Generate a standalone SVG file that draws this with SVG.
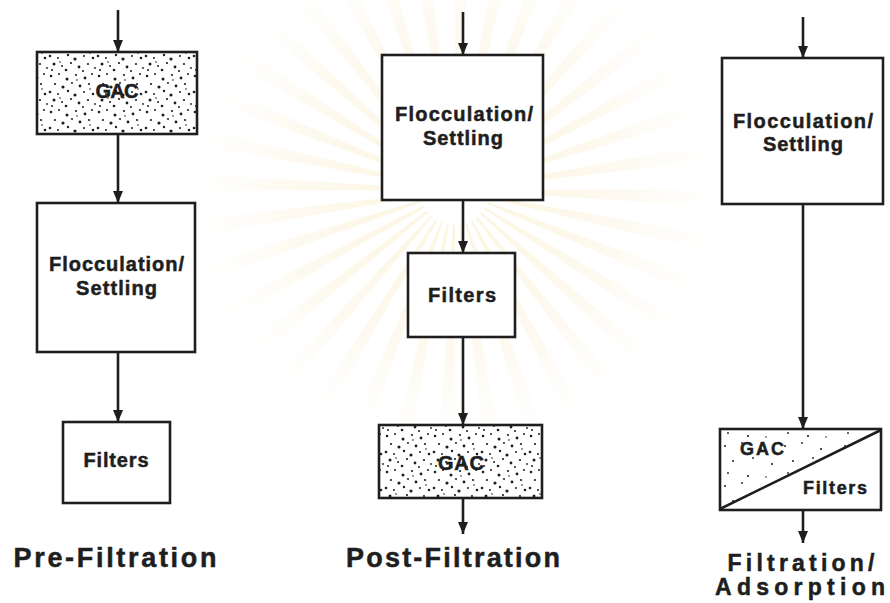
<svg xmlns="http://www.w3.org/2000/svg" width="890" height="603" viewBox="0 0 890 603">
  <style>
    .box { fill: #ffffff; stroke: #1e1e1e; stroke-width: 2.6; stroke-linejoin: miter; }
    .gac { fill: url(#dots); stroke: #1e1e1e; stroke-width: 2.6; }
    .conn { stroke: #1e1e1e; stroke-width: 2.6; fill: none; marker-end: url(#arrow); }
    .lbl { font-family: "Liberation Sans", Arial, Helvetica, sans-serif; font-weight: bold; fill: #1e1e1e; stroke: #1e1e1e; stroke-width: 0.5; text-anchor: middle; font-size: 20px; }
    .title { font-family: "Liberation Sans", Arial, Helvetica, sans-serif; font-weight: bold; fill: #1e1e1e; stroke: #1e1e1e; stroke-width: 0.5; text-anchor: middle; font-size: 27px; }
  </style>
  <defs>
    <marker id="arrow" viewBox="0 0 12 10" markerWidth="12" markerHeight="11" refX="12" refY="5" orient="auto" markerUnits="userSpaceOnUse">
      <path d="M0,0 L12,5 L0,10 z" fill="#1e1e1e"/>
    </marker>
    <pattern id="dots" width="48" height="36" patternUnits="userSpaceOnUse">
      <rect width="48" height="36" fill="#ffffff"/>
      <g fill="#1e1e1e">
        <circle cx="3" cy="4" r="1.3"/><circle cx="11" cy="2" r="1"/><circle cx="19" cy="7" r="1.5"/>
        <circle cx="28" cy="3" r="1.1"/><circle cx="37" cy="6" r="1.4"/><circle cx="44" cy="2" r="1"/>
        <circle cx="7" cy="12" r="1.1"/><circle cx="15" cy="15" r="1.6"/><circle cx="24" cy="11" r="1"/>
        <circle cx="32" cy="14" r="1.4"/><circle cx="41" cy="12" r="1.1"/>
        <circle cx="2" cy="20" r="1.3"/><circle cx="10" cy="22" r="1"/><circle cx="20" cy="19" r="1.2"/>
        <circle cx="27" cy="23" r="1.6"/><circle cx="36" cy="20" r="1"/><circle cx="45" cy="22" r="1.3"/>
        <circle cx="6" cy="28" r="1.5"/><circle cx="14" cy="30" r="1"/><circle cx="23" cy="27" r="1.1"/>
        <circle cx="31" cy="31" r="1.4"/><circle cx="40" cy="28" r="1.1"/><circle cx="47" cy="32" r="0.9"/>
        <circle cx="4" cy="34" r="1"/><circle cx="18" cy="34" r="1.3"/><circle cx="35" cy="35" r="1"/>
        <circle cx="29" cy="8" r="0.8"/><circle cx="12" cy="26" r="0.8"/><circle cx="42" cy="17" r="0.8"/>
      </g>
    </pattern>
    <pattern id="sparse" width="60" height="40" patternUnits="userSpaceOnUse">
      <g fill="#1e1e1e">
        <circle cx="5" cy="6" r="1"/><circle cx="22" cy="3" r="0.9"/><circle cx="41" cy="9" r="1.1"/>
        <circle cx="13" cy="21" r="1"/><circle cx="33" cy="18" r="0.9"/><circle cx="52" cy="24" r="1"/>
        <circle cx="8" cy="33" r="0.9"/><circle cx="28" cy="36" r="1.1"/><circle cx="46" cy="37" r="0.8"/>
      </g>
    </pattern>
    <radialGradient id="rays" gradientUnits="userSpaceOnUse" cx="455" cy="190" r="290">
      <stop offset="0.12" stop-color="#f6e2a6" stop-opacity="0.35"/>
      <stop offset="0.6" stop-color="#f8e8bf" stop-opacity="0.22"/>
      <stop offset="1" stop-color="#ffffff" stop-opacity="0"/>
    </radialGradient>
  </defs>

  <rect width="890" height="603" fill="#ffffff"/>

  <!-- faint watermark sunburst -->
  <g id="watermark">
    <circle cx="455" cy="190" r="160" fill="none" stroke="url(#rays)" stroke-width="250" stroke-dasharray="10 17.9"/>
  </g>

  <!-- Pre-Filtration -->
  <g id="pre-gac">
    <rect class="gac" x="37" y="52" width="160" height="82"/>
    <text class="lbl" x="117" y="98" textLength="43" lengthAdjust="spacing">GAC</text>
  </g>
  <g id="pre-floc">
    <rect class="box" x="37" y="203" width="158" height="149"/>
    <text class="lbl" x="116.5" y="271" textLength="135" lengthAdjust="spacing">Flocculation/</text>
    <text class="lbl" x="116.5" y="295" textLength="81" lengthAdjust="spacing">Settling</text>
  </g>
  <g id="pre-filters">
    <rect class="box" x="63" y="422" width="107" height="81"/>
    <text class="lbl" x="116" y="467" textLength="65" lengthAdjust="spacing">Filters</text>
  </g>
  <text class="title" x="115" y="567" textLength="203" lengthAdjust="spacing">Pre-Filtration</text>

  <!-- Post-Filtration -->
  <g id="post-floc">
    <rect class="box" x="382" y="55" width="161" height="145"/>
    <text class="lbl" x="464" y="121" textLength="138" lengthAdjust="spacing">Flocculation/</text>
    <text class="lbl" x="463" y="145" textLength="80" lengthAdjust="spacing">Settling</text>
  </g>
  <g id="post-filters">
    <rect class="box" x="408" y="253" width="107" height="84"/>
    <text class="lbl" x="462" y="302" textLength="68" lengthAdjust="spacing">Filters</text>
  </g>
  <g id="post-gac">
    <rect class="gac" x="379" y="425" width="163" height="73"/>
    <text class="lbl" x="461" y="470" textLength="46" lengthAdjust="spacing">GAC</text>
  </g>
  <text class="title" x="453" y="567" textLength="214" lengthAdjust="spacing">Post-Filtration</text>

  <!-- Filtration/Adsorption -->
  <g id="fa-floc">
    <rect class="box" x="722" y="58" width="161" height="146"/>
    <text class="lbl" x="803" y="128" textLength="140" lengthAdjust="spacing">Flocculation/</text>
    <text class="lbl" x="803" y="151" textLength="80" lengthAdjust="spacing">Settling</text>
  </g>
  <g id="fa-combo">
    <rect class="box" x="720" y="429" width="161" height="81"/>
    <polygon points="720,510 881,429 720,429" fill="url(#sparse)"/>
    <line x1="720" y1="509" x2="881" y2="430" stroke="#1e1e1e" stroke-width="2.6"/>
    <text class="lbl" x="762" y="455" style="font-size:18px" textLength="44" lengthAdjust="spacing">GAC</text>
    <text class="lbl" x="835" y="494" style="font-size:18px" textLength="64" lengthAdjust="spacing">Filters</text>
  </g>
  <text class="title" x="801" y="571" style="font-size:23px" textLength="147" lengthAdjust="spacing">Filtration/</text>
  <text class="title" x="800" y="595" style="font-size:23px" textLength="170" lengthAdjust="spacing">Adsorption</text>

  <!-- connectors -->
  <g id="connectors">
    <line class="conn" x1="118" y1="10" x2="118" y2="52"/>
    <line class="conn" x1="118" y1="134" x2="118" y2="203"/>
    <line class="conn" x1="118" y1="352" x2="118" y2="422"/>
    <line class="conn" x1="463" y1="12" x2="463" y2="55"/>
    <line class="conn" x1="463" y1="200" x2="463" y2="253"/>
    <line class="conn" x1="463" y1="337" x2="463" y2="425"/>
    <line class="conn" x1="463" y1="498" x2="463" y2="534"/>
    <line class="conn" x1="803" y1="17" x2="803" y2="58"/>
    <line class="conn" x1="803" y1="204" x2="803" y2="429"/>
    <line class="conn" x1="803" y1="510" x2="803" y2="543"/>
  </g>
</svg>
